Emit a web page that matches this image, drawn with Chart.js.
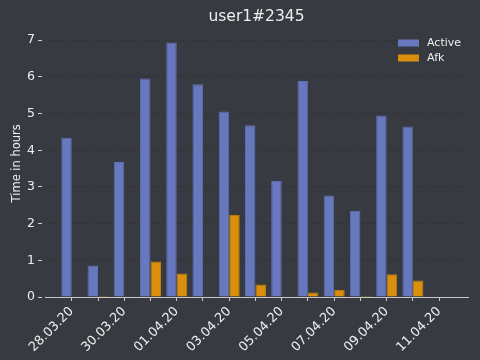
<!DOCTYPE html>
<html>
<head>
<meta charset="utf-8">
<script src="https://cdn.jsdelivr.net/npm/chart.js@4/dist/chart.umd.min.js"></script>
<style>
  html, body { margin: 0; padding: 0; background: #373a41; }
  #wrap { width: 480px; height: 360px; }
</style>
</head>
<body>
<div id="wrap"><canvas id="chart"></canvas></div>
<script>
const days = ['28.03.20', '29.03.20', '30.03.20', '31.03.20', '01.04.20', '02.04.20', '03.04.20',
  '04.04.20', '05.04.20', '06.04.20', '07.04.20', '08.04.20', '09.04.20', '10.04.20', '11.04.20'];
const active = [4.34, 0.86, 3.68, 5.96, 6.94, 5.80, 5.06, 4.68, 3.16, 5.89, 2.77, 2.35, 4.95, 4.65, 0];
const afk = [0.02, 0.03, 0.01, 0.97, 0.64, 0.02, 2.24, 0.34, 0, 0.12, 0.20, 0.03, 0.62, 0.45, 0];

const textColor = '#eeeeee';
const lineColor = '#c8c8c8';

Chart.defaults.font.family = '"DejaVu Sans", sans-serif';
Chart.defaults.color = textColor;

// legend sits inside the plot, top right
const cornerLegend = {
  id: 'cornerLegend',
  afterDraw(chart) {
    const ctx = chart.ctx;
    ctx.save();
    ctx.font = '11px "DejaVu Sans", sans-serif';
    ctx.textBaseline = 'middle';
    chart.data.datasets.forEach((ds, i) => {
      const y = 43 + i * 15;
      ctx.fillStyle = ds.backgroundColor;
      ctx.fillRect(398, y - 3.5, 21, 7);
      ctx.fillStyle = textColor;
      ctx.fillText(ds.label, 427, y);
    });
    ctx.restore();
  }
};

const toPoints = arr => arr.map((v, i) => ({ x: i, y: v }));

new Chart(document.getElementById('chart'), {
  type: 'bar',
  data: {
    datasets: [
      {
        label: 'Active',
        data: toPoints(active),
        backgroundColor: '#6878be',
        borderColor: '#5e6eb2',
        borderWidth: 1
      },
      {
        label: 'Afk',
        data: toPoints(afk),
        backgroundColor: '#db900d',
        borderColor: '#c5820a',
        borderWidth: 1
      }
    ]
  },
  options: {
    responsive: true,
    maintainAspectRatio: false,
    animation: false,
    events: [],
    categoryPercentage: 0.8,
    barPercentage: 1.0,
    layout: { padding: { left: 0, right: 12, top: 0, bottom: 0 } },
    plugins: {
      legend: { display: false },
      tooltip: { enabled: false },
      title: {
        display: true,
        text: 'user1#2345',
        fullSize: false,
        color: textColor,
        font: { size: 15.5, weight: 'normal' },
        padding: { top: 8, bottom: 3 }
      }
    },
    scales: {
      x: {
        type: 'linear',
        min: -1.02,
        max: 15.1,
        offset: false,
        afterFit: s => { s.height = 63; },
        afterBuildTicks: s => {
          s.ticks = s.ticks.filter(t => t.value >= 0 && t.value <= days.length - 1);
        },
        border: { display: true, color: lineColor, width: 1 },
        grid: {
          offset: false,
          drawOnChartArea: false,
          drawTicks: true,
          tickLength: 4,
          tickColor: lineColor
        },
        ticks: {
          stepSize: 1,
          autoSkip: false,
          minRotation: 45,
          maxRotation: 45,
          padding: 3,
          color: textColor,
          font: { size: 12.8 },
          callback: v => {
            const i = Math.round(v);
            return i % 2 === 0 ? days[i] : '';
          }
        }
      },
      y: {
        min: 0,
        max: 7.29,
        bounds: 'data',
        afterFit: s => { s.width = 45; },
        border: { display: false, dash: [1, 2] },
        grid: {
          color: '#2a2c31',
          lineWidth: 1,
          tickLength: 7,
          tickColor: '#d0d0d0',
          tickBorderDash: [4, 10]
        },
        ticks: {
          stepSize: 1,
          includeBounds: false,
          padding: 3,
          color: textColor,
          font: { size: 12.5 }
        },
        title: {
          display: true,
          text: 'Time in hours',
          color: textColor,
          font: { size: 11.5 },
          padding: { top: 10, bottom: 0 }
        }
      }
    }
  },
  plugins: [cornerLegend]
});
</script>
</body>
</html>
